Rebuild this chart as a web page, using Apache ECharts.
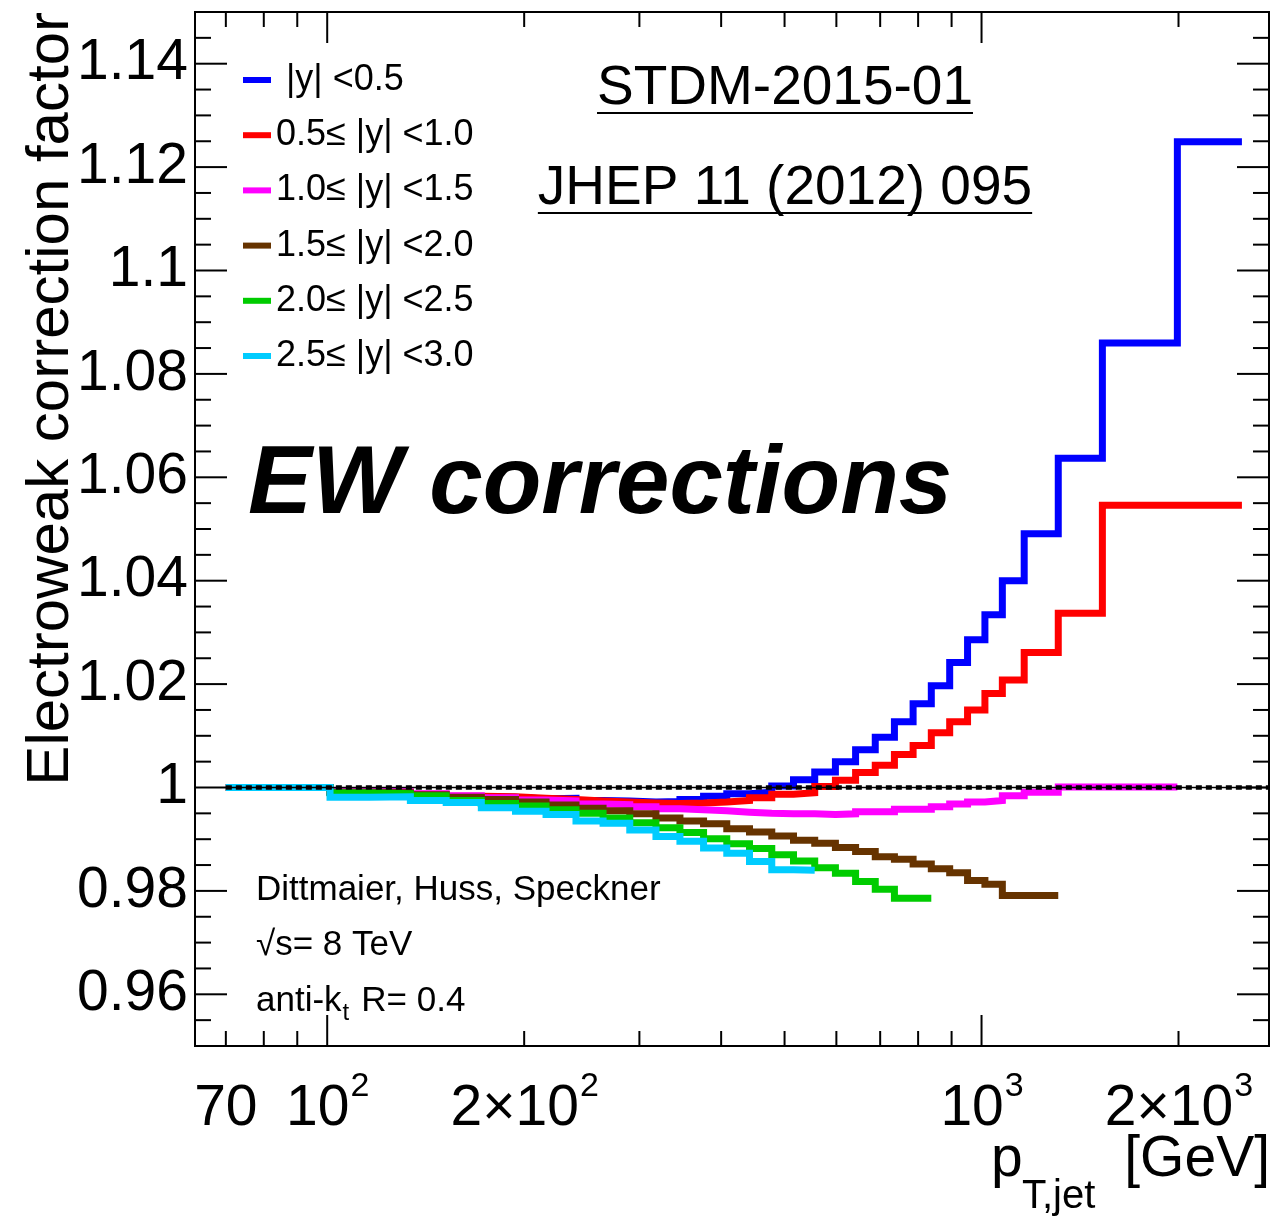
<!DOCTYPE html>
<html><head><meta charset="utf-8">
<script src="https://cdn.jsdelivr.net/npm/echarts@6/dist/echarts.min.js"></script>
<style>html,body{margin:0;padding:0;background:#fff;} #c{width:1283px;height:1217px;}</style>
</head><body><div id="c"></div>
<script>
// ---------------- data ----------------
const binEdges = [70,85,101,116,134,152,172,194,216,240,264,290,318,346,376,408,442,478,516,556,598,642,688,736,786,838,894,952,1012,1076,1162,1310,1530,1992,2500];

const legendNames = [' |y| <0.5', '0.5\u2264 |y| <1.0', '1.0\u2264 |y| <1.5', '1.5\u2264 |y| <2.0', '2.0\u2264 |y| <2.5', '2.5\u2264 |y| <3.0'];

const corrY00_05 = [1, 1, 0.9991, 0.9990, 0.9986, 0.9982, 0.9981, 0.9978, 0.9979, 0.9975, 0.9974, 0.9972, 0.9973, 0.9977, 0.9983, 0.9988, 0.9991, 1.0003, 1.0015, 1.0030, 1.0050, 1.0073, 1.0097, 1.0127, 1.0162, 1.0197, 1.0242, 1.0286, 1.0334, 1.0400, 1.0491, 1.0637, 1.0860, 1.1249];
const corrY05_10 = [1, 1, 0.9992, 0.9991, 0.9987, 0.9983, 0.9982, 0.9979, 0.9977, 0.9974, 0.9972, 0.9970, 0.9969, 0.9970, 0.9972, 0.9975, 0.9980, 0.9987, 0.9990, 1.0002, 1.0014, 1.0029, 1.0043, 1.0064, 1.0081, 1.0106, 1.0127, 1.0150, 1.0182, 1.0208, 1.0261, 1.0337, 1.0546, 1.0546];
const corrY10_15 = [1, 1, 0.9993, 0.9992, 0.9988, 0.9984, 0.9980, 0.9976, 0.9974, 0.9968, 0.9967, 0.9963, 0.9959, 0.9957, 0.9955, 0.9952, 0.9950, 0.9949, 0.9949, 0.9948, 0.9949, 0.9953, 0.9953, 0.9958, 0.9958, 0.9963, 0.9968, 0.9972, 0.9975, 0.9984, 0.9991, 1.0001, 1.0001];
const corrY15_20 = [1, 1, 0.9991, 0.9990, 0.9986, 0.9981, 0.9977, 0.9972, 0.9966, 0.9960, 0.9955, 0.9949, 0.9941, 0.9935, 0.9930, 0.9920, 0.9914, 0.9906, 0.9898, 0.9892, 0.9884, 0.9876, 0.9866, 0.9861, 0.9852, 0.9843, 0.9835, 0.9820, 0.9813, 0.9791, 0.9791];
const corrY20_25 = [1, 1, 0.9990, 0.9988, 0.9984, 0.9975, 0.9969, 0.9964, 0.9957, 0.9950, 0.9941, 0.9932, 0.9922, 0.9913, 0.9901, 0.9891, 0.9882, 0.9870, 0.9858, 0.9845, 0.9834, 0.9818, 0.9803, 0.9786, 0.9786];
const corrY25_30 = [1, 1, 0.9981, 0.9982, 0.9975, 0.9971, 0.9961, 0.9954, 0.9948, 0.9935, 0.9931, 0.9918, 0.9905, 0.9896, 0.9883, 0.9873, 0.9857, 0.9841, 0.9840];

const seriesColors = ['#0000ff', '#ff0000', '#ff00ff', '#663300', '#00cc00', '#00ccff'];

const xTickMajor = [100, 1000];
const xTickMinor = [70, 80, 90, 200, 300, 400, 500, 600, 700, 800, 900, 2000];
const yTickMajor = [0.96, 0.98, 1.00, 1.02, 1.04, 1.06, 1.08, 1.10, 1.12, 1.14];
const yTickMinor = [0.955, 0.965, 0.97, 0.975, 0.985, 0.99, 0.995, 1.005, 1.01, 1.015, 1.025, 1.03, 1.035, 1.045, 1.05, 1.055, 1.065, 1.07, 1.075, 1.085, 1.09, 1.095, 1.105, 1.11, 1.115, 1.125, 1.13, 1.135, 1.145];

const xLabelValues = [70, 100, 200, 1000, 2000];
const xLabelBase = ['70', '10', '2\u00d710', '10', '2\u00d710'];
const xLabelSup = ['', '2', '2', '3', '3'];
const yLabelValues = [0.96, 0.98, 1.00, 1.02, 1.04, 1.06, 1.08, 1.10, 1.12, 1.14];
const yLabelTexts = ['0.96', '0.98', '1', '1.02', '1.04', '1.06', '1.08', '1.1', '1.12', '1.14'];

const refLineValue = 1.0;
const X_MIN = 62.8, X_MAX = 2750, Y_MIN = 0.95, Y_MAX = 1.15;

// ---------------- helpers ----------------
const FONT = '"Liberation Sans", Arial, Helvetica, sans-serif';
const MID = 0.3465; // em-middle above alphabetic baseline
const mctx = document.createElement('canvas').getContext('2d');
function tw(t, size, pre) { mctx.font = (pre ? pre + ' ' : '') + size + 'px ' + FONT; return mctx.measureText(t).width; }
function font(size, pre) { return (pre ? pre + ' ' : '') + size + 'px ' + FONT; }
function textEl(text, x, y, size, align, pre, extra) {
  const el = { type: 'text', x: x, y: y, silent: true,
    style: { text: text, font: font(size, pre), fill: '#000', align: align, textAlign: align, verticalAlign: 'middle', textVerticalAlign: 'middle' } };
  if (extra) Object.assign(el, extra);
  return el;
}
function stepData(vals) {
  const pts = [];
  for (let i = 0; i < vals.length; i++) { pts.push([binEdges[i], vals[i]]); pts.push([binEdges[i + 1], vals[i]]); }
  return pts;
}

const allCorr = [corrY00_05, corrY05_10, corrY10_15, corrY15_20, corrY20_25, corrY25_30];
const series = allCorr.map((vals, k) => ({
  name: legendNames[k], type: 'line', data: stepData(vals), color: seriesColors[k],
  symbol: 'none', showSymbol: false, animation: false, silent: true, z: 3,
  lineStyle: { width: 7, color: seriesColors[k], join: 'miter', cap: 'butt', miterLimit: 10 }
}));

// reference line y=1 (thin solid + thick dashed)
series.push({ type: 'line', data: [[binEdges[0], refLineValue], [X_MAX, refLineValue]], symbol: 'none', animation: false, silent: true, z: 4,
  lineStyle: { width: 1.5, color: '#000', type: 'solid' } });
series.push({ type: 'line', data: [[binEdges[0], refLineValue], [X_MAX, refLineValue]], symbol: 'none', animation: false, silent: true, z: 4,
  lineStyle: { width: 4.5, color: '#000', type: [6, 4], cap: 'butt' } });

// ticks
const xTickData = xTickMajor.map(v => [v, Y_MIN, 1]).concat(xTickMinor.map(v => [v, Y_MIN, 0]));
const yTickData = yTickMajor.map(v => [X_MIN, v, 1]).concat(yTickMinor.map(v => [X_MIN, v, 0]));
series.push({ type: 'custom', coordinateSystem: 'cartesian2d', silent: true, clip: false, z: 10, animation: false,
  data: xTickData,
  renderItem: function (params, api) {
    const v = api.value(0), len = api.value(2) ? 31 : 15;
    const b = api.coord([v, Y_MIN]), t = api.coord([v, Y_MAX]);
    return { type: 'group', children: [
      { type: 'line', shape: { x1: b[0], y1: b[1], x2: b[0], y2: b[1] - len }, style: { stroke: '#000', lineWidth: 2 } },
      { type: 'line', shape: { x1: t[0], y1: t[1], x2: t[0], y2: t[1] + len }, style: { stroke: '#000', lineWidth: 2 } }
    ] };
  } });
series.push({ type: 'custom', coordinateSystem: 'cartesian2d', silent: true, clip: false, z: 10, animation: false,
  data: yTickData,
  renderItem: function (params, api) {
    const v = api.value(1), len = api.value(2) ? 32 : 16;
    const l = api.coord([X_MIN, v]), r = api.coord([X_MAX, v]);
    return { type: 'group', children: [
      { type: 'line', shape: { x1: l[0], y1: l[1], x2: l[0] + len, y2: l[1] }, style: { stroke: '#000', lineWidth: 2 } },
      { type: 'line', shape: { x1: r[0], y1: r[1], x2: r[0] - len, y2: r[1] }, style: { stroke: '#000', lineWidth: 2 } }
    ] };
  } });

// tick labels
const LBL = 57, SUP = 34;
series.push({ type: 'custom', coordinateSystem: 'cartesian2d', silent: true, clip: false, z: 10, animation: false,
  data: xLabelValues.map(v => [v, Y_MIN]),
  renderItem: function (params, api) {
    const i = params.dataIndex;
    const p = api.coord([api.value(0), Y_MIN]);
    const base = xLabelBase[i], sup = xLabelSup[i];
    const wb = tw(base, LBL), ws = sup ? tw(sup, SUP) : 0;
    const left = p[0] - (wb + ws) / 2;
    const cy = p[1] + 63;
    const ch = [{ type: 'text', style: { text: base, x: left, y: cy, font: font(LBL), fill: '#000', align: 'left', textAlign: 'left', verticalAlign: 'middle', textVerticalAlign: 'middle' } }];
    if (sup) ch.push({ type: 'text', style: { text: sup, x: left + wb + 1, y: cy - 22, font: font(SUP), fill: '#000', align: 'left', textAlign: 'left', verticalAlign: 'middle', textVerticalAlign: 'middle' } });
    return { type: 'group', children: ch };
  } });
series.push({ type: 'custom', coordinateSystem: 'cartesian2d', silent: true, clip: false, z: 10, animation: false,
  data: yLabelValues.map(v => [X_MIN, v]),
  renderItem: function (params, api) {
    const i = params.dataIndex;
    const p = api.coord([X_MIN, api.value(1)]);
    return { type: 'text', style: { text: yLabelTexts[i], x: p[0] - 7, y: p[1], font: font(LBL), fill: '#000', align: 'right', textAlign: 'right', verticalAlign: 'middle', textVerticalAlign: 'middle' } };
  } });

// ---------------- free texts ----------------
const graphics = [];
// y-axis title
graphics.push(textEl('Electroweak correction factor', 72 - MID * 60, 12, 60, 'right', '', { rotation: Math.PI / 2 }));
// x-axis title
graphics.push(textEl('[GeV]', 1270, 1180 - MID * 57, 57, 'right'));
graphics.push(textEl('p', 991, 1180 - MID * 57, 57, 'left'));
graphics.push(textEl('T,jet', 1022, 1211 - MID * 40, 40, 'left'));
// references (underlined)
function underlined(text, cx, baseline, size) {
  const w = tw(text, size);
  graphics.push(textEl(text, cx, baseline - MID * size, size, 'center'));
  graphics.push({ type: 'line', silent: true, shape: { x1: cx - w / 2, y1: baseline + 5, x2: cx + w / 2, y2: baseline + 5 }, style: { stroke: '#000', lineWidth: 2 } });
}
underlined('STDM-2015-01', 785, 108, 55);
underlined('JHEP 11 (2012) 095', 785, 208, 55);
// big label
graphics.push(textEl('EW corrections', 248, 520 - MID * 96, 96, 'left', 'italic bold'));
// info texts
const INF = 35;
graphics.push(textEl('Dittmaier, Huss, Speckner', 256, 902 - MID * INF, INF, 'left'));
graphics.push(textEl('\u221As= 8 TeV', 256, 957 - MID * INF, INF, 'left'));
const wAnti = tw('anti-k', INF);
graphics.push(textEl('anti-k', 256, 1013 - MID * INF, INF, 'left'));
graphics.push(textEl('t', 256 + wAnti + 1, 1022 - MID * 24, 24, 'left'));
graphics.push(textEl(' R= 0.4', 256 + wAnti + 10, 1013 - MID * INF, INF, 'left'));

// ---------------- chart ----------------
const chart = echarts.init(document.getElementById('c'), null, { renderer: 'canvas' });
chart.setOption({
  animation: false,
  backgroundColor: '#fff',
  grid: { left: 195, top: 12, width: 1074, height: 1034, show: true, borderColor: '#000', borderWidth: 2, backgroundColor: 'transparent', containLabel: false },
  xAxis: { type: 'log', logBase: 10, min: X_MIN, max: X_MAX, axisLine: { show: false }, axisTick: { show: false }, axisLabel: { show: false }, splitLine: { show: false }, minorTick: { show: false } },
  yAxis: { type: 'value', min: Y_MIN, max: Y_MAX, axisLine: { show: false }, axisTick: { show: false }, axisLabel: { show: false }, splitLine: { show: false } },
  legend: {
    data: legendNames, left: 243, top: 62, orient: 'vertical', padding: 0, itemGap: 19.2,
    itemWidth: 28, itemHeight: 6, icon: 'rect', selectedMode: false,
    textStyle: { fontFamily: FONT, fontSize: 36, color: '#000', lineHeight: 32 }
  },
  graphic: { elements: graphics },
  series: series
});
</script>
</body></html>
